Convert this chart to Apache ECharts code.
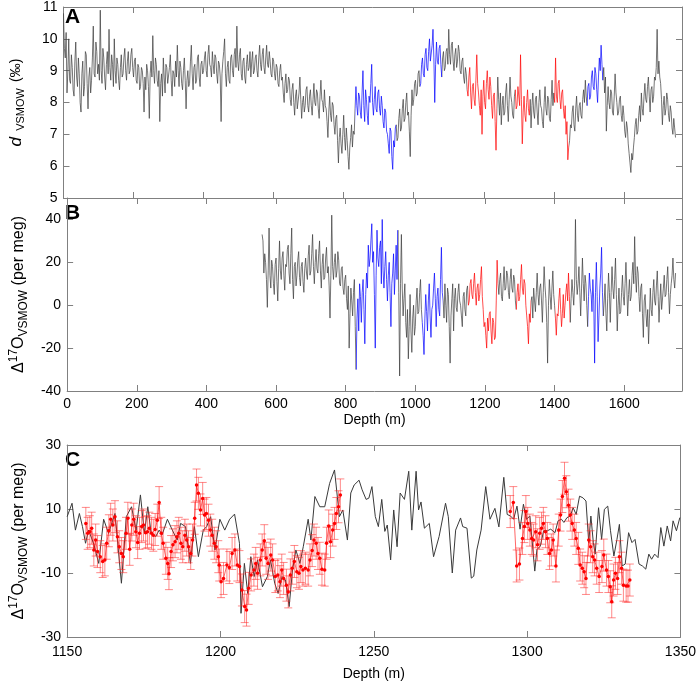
<!DOCTYPE html>
<html>
<head>
<meta charset="utf-8">
<script src="https://cdn.jsdelivr.net/npm/echarts@6.0.0/dist/echarts.min.js"></script>
<style>
  html, body { margin: 0; padding: 0; background: #fff; }
  #main { width: 699px; height: 684px; }
</style>
</head>
<body>
<div id="main"></div>
<script>
// panel A / B are sampled every 2.5 m
const aStart = 0
const bStart = 560
const step = 2.5

// A: deuterium excess (permil), 0 - 1747.5 m
const dExcess = [
  10.8, 9.7, 9.4, 10.2, 8.3, 9.0, 10.0, 8.7, 8.6, 9.5, 9.1, 8.4, 8.2, 9.3, 9.9, 8.8, 8.5, 9.4, 8.9, 8.0,
  7.7, 8.9, 9.3, 8.2, 8.5, 9.6, 9.5, 8.6, 7.8, 8.8, 9.1, 8.3, 8.7, 9.4, 10.4, 8.9, 8.8, 9.9, 9.6, 8.9,
  9.2, 8.7, 10.9, 9.0, 8.6, 9.7, 9.4, 8.8, 8.4, 9.2, 9.6, 8.9, 10.3, 9.1, 8.7, 9.5, 9.2, 8.5, 10.0, 9.0,
  8.6, 9.4, 9.2, 8.7, 8.4, 9.1, 9.5, 8.8, 8.9, 9.4, 9.7, 9.0, 8.7, 9.3, 9.6, 8.9, 9.0, 9.5, 9.7, 9.1,
  8.8, 9.3, 9.4, 8.7, 8.6, 9.2, 9.1, 8.4, 8.5, 9.1, 9.0, 8.6, 7.7, 8.8, 8.4, 9.2, 9.0, 8.5, 7.5, 8.9,
  9.3, 8.8, 10.1, 9.0, 8.6, 9.4, 9.2, 8.7, 8.5, 9.0, 7.4, 8.6, 8.9, 8.2, 9.4, 8.8, 8.3, 9.2, 9.1, 8.6,
  8.6, 9.1, 9.5, 8.7, 8.2, 9.0, 8.9, 8.5, 9.3, 8.8, 9.8, 9.0, 8.5, 9.3, 9.1, 8.6, 8.4, 9.0, 9.4, 8.7,
  7.8, 8.7, 9.0, 8.5, 8.6, 9.3, 9.8, 8.9, 8.4, 9.1, 9.2, 8.6, 8.7, 9.4, 9.5, 8.8, 8.5, 9.2, 9.3, 8.9,
  9.0, 9.4, 9.6, 9.0, 8.8, 9.5, 9.8, 9.2, 9.1, 8.8, 9.6, 9.2, 8.9, 9.5, 9.4, 8.9, 8.6, 9.3, 9.2, 8.8,
  7.4, 8.9, 9.3, 9.6, 10.0, 8.9, 8.5, 9.1, 9.3, 8.7, 8.6, 9.4, 9.5, 9.0, 8.8, 9.5, 9.7, 9.1, 10.4, 9.3,
  9.0, 9.5, 9.7, 8.9, 8.7, 9.3, 9.4, 8.8, 8.6, 9.2, 9.5, 9.0, 9.1, 9.6, 8.8, 9.3, 9.6, 8.9, 9.0, 9.4,
  9.5, 9.0, 8.8, 9.4, 9.8, 9.2, 9.0, 9.5, 9.7, 9.1, 8.9, 9.4, 9.8, 9.2, 9.1, 9.6, 9.3, 8.9, 8.8, 9.4,
  9.3, 8.9, 8.7, 9.2, 9.1, 8.6, 8.5, 9.0, 9.2, 8.7, 8.8, 8.3, 8.0, 8.6, 8.9, 8.3, 8.4, 8.8, 8.7, 8.1,
  7.9, 8.4, 8.6, 8.0, 7.6, 8.2, 8.4, 7.8, 7.8, 8.3, 8.8, 8.1, 7.5, 8.0, 8.2, 7.7, 7.9, 8.4, 8.5, 7.9,
  7.7, 8.2, 8.4, 7.9, 7.6, 8.1, 8.6, 8.0, 7.9, 8.4, 8.3, 7.8, 7.5, 8.2, 8.7, 8.1, 8.0, 7.7, 8.4, 7.9,
  7.8, 7.4, 6.9, 7.7, 8.2, 7.6, 7.4, 8.0, 7.9, 7.3, 7.0, 7.5, 7.6, 6.8, 6.1, 6.9, 7.2, 6.7, 6.4, 7.0,
  7.6, 6.9, 6.5, 7.2, 6.8, 6.3, 5.9, 6.6, 6.9, 7.3, 6.6, 7.1, 7.0, 7.8, 8.5, 7.9, 7.6, 8.3, 8.2, 7.7,
  7.5, 8.3, 9.0, 7.9, 7.4, 8.4, 8.1, 7.6, 7.3, 8.2, 8.0, 8.6, 9.2, 8.0, 7.6, 8.1, 8.5, 7.8, 7.7, 8.3,
  8.4, 7.8, 7.6, 8.2, 7.9, 7.4, 7.2, 7.8, 7.7, 7.1, 7.0, 6.7, 6.4, 7.2, 7.1, 6.3, 5.9, 6.8, 6.6, 7.2,
  7.3, 6.8, 6.9, 7.5, 7.8, 7.1, 7.2, 7.8, 8.1, 7.4, 7.5, 8.0, 8.3, 7.6, 7.7, 7.1, 6.3, 7.6, 8.4, 7.9,
  8.1, 8.6, 8.7, 8.2, 8.3, 8.9, 9.0, 8.5, 8.6, 9.2, 9.4, 8.9, 8.8, 9.5, 9.7, 9.1, 9.0, 9.6, 10.0, 9.3,
  9.3, 9.8, 10.3, 9.4, 8.0, 9.2, 9.9, 9.3, 9.2, 9.7, 9.8, 9.2, 8.8, 9.4, 9.6, 9.0, 9.1, 9.6, 9.7, 9.2,
  10.3, 9.5, 9.2, 9.8, 9.9, 9.3, 9.0, 9.5, 9.7, 9.1, 9.3, 9.8, 9.6, 9.0, 8.9, 9.3, 9.4, 8.8, 8.6, 9.1,
  8.9, 8.4, 8.2, 8.8, 9.1, 8.3, 7.8, 8.5, 8.6, 8.1, 7.9, 8.7, 9.5, 8.6, 8.3, 7.9, 7.6, 8.4, 7.0, 8.2,
  8.7, 8.0, 7.8, 8.6, 9.0, 8.4, 8.1, 8.8, 8.5, 7.9, 7.5, 8.2, 8.3, 7.4, 6.5, 7.8, 8.8, 8.1, 7.6, 8.3,
  7.3, 7.9, 8.2, 7.6, 7.7, 8.3, 8.6, 7.9, 7.4, 8.1, 8.8, 8.2, 8.0, 7.6, 7.5, 8.2, 8.4, 7.8, 7.9, 8.5,
  8.5, 7.9, 9.5, 8.1, 6.7, 7.7, 8.2, 7.6, 7.4, 8.0, 8.4, 7.8, 7.6, 8.1, 7.2, 7.9, 8.3, 7.7, 7.5, 8.1,
  8.2, 7.7, 7.3, 8.0, 8.4, 7.9, 7.8, 7.4, 7.2, 8.0, 8.5, 7.8, 7.6, 8.2, 8.1, 7.5, 7.4, 8.1, 8.7, 7.9,
  8.3, 8.0, 9.4, 8.2, 8.0, 8.6, 8.7, 8.1, 7.8, 8.3, 8.4, 7.8, 7.5, 7.9, 7.0, 7.4, 6.2, 6.6, 6.8, 7.3,
  7.2, 7.7, 7.9, 7.3, 7.1, 7.8, 8.2, 7.6, 7.4, 7.9, 8.0, 7.6, 7.5, 8.1, 8.4, 8.0, 8.7, 8.2, 7.9, 8.5,
  8.6, 8.1, 8.2, 8.8, 9.0, 8.5, 8.4, 9.1, 8.9, 8.4, 8.0, 8.8, 9.4, 9.0, 9.8, 9.2, 8.7, 9.1, 8.3, 8.8,
  7.1, 7.9, 8.5, 8.0, 7.8, 8.4, 8.3, 7.7, 7.6, 8.2, 8.9, 8.3, 8.0, 7.6, 7.7, 8.1, 8.2, 7.6, 7.4, 7.9,
  7.6, 7.1, 6.9, 7.4, 7.2, 6.7, 6.4, 6.1, 5.8, 6.4, 6.2, 6.6, 6.9, 7.3, 7.5, 7.0, 7.1, 7.6, 7.9, 7.4,
  8.3, 7.8, 7.6, 8.2, 8.6, 8.1, 8.0, 8.5, 8.8, 8.2, 7.7, 8.4, 8.5, 8.0, 8.2, 8.8, 8.7, 9.1, 10.3, 8.9,
  9.3, 8.8, 8.6, 8.1, 7.3, 7.9, 8.2, 7.6, 7.8, 8.3, 8.1, 7.6, 7.4, 7.9, 7.7, 7.2, 7.0, 7.5, 7.2, 6.9
]

// B: 17O excess (per meg), 560 - 1747.5 m
const d17O = [
  33, 30, 15, 24, 20, 12, -1, 16, 36, 14, 8, 21, 18, 10, 5, 19, 22, 11, 2, 17,
  30, 16, 12, 22, 25, 14, 7, 19, 18, 26, 28, 15, 10, 24, 36, 12, 3, 18, 20, 9,
  14, 21, 25, 13, 9, 18, 20, 11, 6, 17, 22, 15, 12, 23, 28, 14, 16, 24, 33, 18,
  10, 20, 26, 17, 15, 24, 30, 16, 8, 19, 24, 12, 13, 22, 27, 15, 18, 9, -6, 14,
  42, 18, 12, 20, 24, 13, 16, 25, 21, 10, 9, 17, 18, 8, 5, 12, 14, 3, -2, 9,
  -20, -4, 8, 2, -5, 6, 12, -10, -30, -6, 3, -12, 10, 4, -8, 6, 12, -2, -18, 5,
  15, 8, 28, 18, 22, 30, 38, 20, 25, 5, -20, 14, 35, 22, 18, 27, 30, 10, 40, 16,
  8, 18, 25, 12, 2, 14, 20, 6, -10, 10, 15, 24, 5, 16, 28, 12, 35, 6, -33, 10,
  33, 8, -5, 3, 10, -8, -15, -2, -25, -10, 5, -12, -22, -6, 0, -14, -10, 2, 8, -4,
  -3, 6, 12, -2, -8, -14, -23, -6, 5, -3, -12, 2, 10, -5, -15, -2, 0, 8, 15, 3,
  -10, 4, 8, -2, -5, 12, 27, 6, 2, -6, 10, 0, -8, 8, 5, -10, -27, -5, 3, 10,
  -12, 3, 8, -1, -3, 6, 10, 2, 0, -5, -10, 4, 6, -2, -5, 7, 9, 0, 2, 10,
  12, 5, 3, 10, 15, 6, 0, 8, 10, 2, 5, 12, 18, 4, -2, -10, -8, -14, -20, -6,
  -12, -4, -3, -12, -18, -6, -8, -16, -15, 2, 21, 10, 5, 12, 15, 4, 2, 10, 18, 7,
  8, 16, 14, 6, 3, 12, 17, 8, 6, 14, 12, 2, -2, 6, 10, 2, 4, 12, 19, 8,
  5, 12, 10, 0, -5, -10, -18, -4, -8, 2, 4, -6, 8, 2, -3, 6, 15, 5, 0, 8,
  10, 2, -8, 6, 18, 9, 3, -8, -27, 0, 12, 4, -2, 8, 16, 5, 0, -6, -14, -4,
  -5, 3, 8, -2, -10, -4, 5, -6, 0, 6, 10, 2, 15, 4, -8, 3, 12, 6, 0, 9,
  40, 12, 5, 10, 18, 6, -5, 8, 22, 10, 2, 14, 10, 0, -10, 4, 15, 8, 5, -3,
  12, 2, -27, 6, 20, 4, -17, -5, 8, 15, 27, 6, -5, 2, 10, -4, -12, 3, 15, 6,
  -8, 6, 18, 8, 3, 12, 22, 5, -12, 0, 8, -4, -3, 6, 14, 4, 0, 10, 20, 8,
  -5, 5, 12, 2, 4, 14, 20, 10, 32, 14, 6, 18, 15, 4, -3, 8, 10, -4, -15, 2,
  5, -4, -10, -2, -18, -6, 8, -2, -5, 6, 12, 2, 0, 9, 16, 4, -8, 2, 10, -2,
  -2, 8, 14, 4, 5, 12, 18, 6, -4, 5, 10, 14, 22, 12, 8, 15
]

// depth intervals highlighted in A and B
const blueRanges = [[831, 950], [1018, 1080], [1496, 1540]]
const redRanges = [[1152, 1238], [1288, 1332], [1400, 1444]]

// C: detail 1150 - 1350 m
const cLineDepth = [
  1150, 1151.6, 1152.7, 1154, 1155, 1156, 1157, 1158.7, 1160.3, 1161.9,
  1163.5, 1165.6, 1167.7, 1169.3, 1171, 1172.5, 1173.9, 1175.2, 1176.3, 1177.4,
  1178.9, 1180, 1181, 1182.7, 1184.3, 1185.9, 1187, 1188.6, 1190.2, 1191.5,
  1192.8, 1194.4, 1195.5, 1196.8, 1198.2, 1199.8, 1201.4, 1203, 1204.6, 1206.2,
  1206.7, 1207.8, 1208.9, 1209.9, 1211, 1212.1, 1213.7, 1215.3, 1216.3, 1217.7,
  1218.8, 1220.1, 1221.2, 1222.4, 1223.5, 1224.6, 1225.9, 1227, 1228.6, 1229.5,
  1230.8, 1232.4, 1234, 1235.6, 1237.2, 1238.8, 1239.9, 1241.4, 1242.5, 1243.6,
  1245.2, 1246.2, 1247.5, 1248.4, 1249.4, 1250.5, 1251.5, 1252.6, 1253.6, 1254.4,
  1255.5, 1256.5, 1257.6, 1258.6, 1260, 1261.4, 1262.4, 1263.8, 1264.6, 1265.4,
  1266.5, 1268.1, 1269.5, 1271.3, 1273.4, 1274.3, 1275.6, 1276.7, 1278.3, 1279,
  1280.4, 1281.8, 1282.6, 1283.6, 1285, 1286.5, 1287.9, 1289.5, 1290.8, 1292.4,
  1293.5, 1294.6, 1295.6, 1296.7, 1297.7, 1298.8, 1299.8, 1300.9, 1301.6, 1302.5,
  1303.2, 1304.3, 1305.4, 1306.6, 1307.7, 1309.1, 1310.1, 1311.2, 1312, 1313,
  1314.1, 1315, 1316, 1317.1, 1318.2, 1319.2, 1320.1, 1320.8, 1321.6, 1322.2,
  1323.3, 1324.3, 1325.2, 1326.3, 1327.2, 1328.3, 1329.3, 1330.1, 1331, 1332,
  1333.1, 1334.2, 1335.2, 1336.5, 1337.6, 1338.7, 1339.7, 1340.6, 1341.6, 1342.7,
  1343.6, 1344.6, 1345.7, 1346.8, 1347.6, 1348.7, 1349.8
]
const cLineValue = [
  7.6, 11.8, 3.4, 8.6, 4.5, -0.7, 3.4, -1, -7, 6.8,
  2.4, 8.6, -13.2, 7.6, 10.7, 3.4, 14.4, 2.4, 10.7, 2.4,
  1.4, 3.4, 2, 6.8, 3.4, 0.3, 5.5, 4.5, -7, 4.5,
  -4.9, 3.4, 4.5, 7.6, -2.8, 6.8, 3.4, 6.8, 8.4, -0.7,
  -22.6, -7, -16.4, -4.9, -11.1, -5.9, -14.3, -11.1, -5.9, -13.2,
  -16.4, -11.1, -12.2, -20.5, -9, -2.8, -7, -1.8, 6.8, 0.3,
  13.9, 10.7, 10.7, 18, 22.2, 7.6, 9.7, 0.3, 15, 17.5,
  19, 16, 13, 13.4, 17, 7.6, 4.5, 13, 3, 5,
  -5.9, 9.7, -1.8, 15, 13, 21.8, 3.4, 21.8, 9.7, 12.2,
  4, 5.5, -4.9, 1.4, 11.8, 7.6, -10, 3.4, 7.2, 4.5,
  4, -11.6, -11, -2.8, 3.4, 17, 6.8, 10.2, 4.4, 19.9,
  8.3, 7.8, 6.8, 10.9, 3.7, 11.5, 6.8, 7.8, 0.5, -9.4,
  -2.7, -1.6, 3.2, 3.2, 3.7, 2.6, 6.3, 6.8, 5.8, 7.3,
  7.8, 10.4, 8.3, 14, 13.5, 12.5, -0.5, 7.8, -0.5, -4.1,
  10.4, 0.5, 9.9, 10.9, 3.2, -4.7, 0.5, 5.2, -7.8, -7.2,
  2.6, -0.5, 0.5, -7.2, -7.8, -8.8, -4.1, -5.7, -4.1, -5.2,
  4.2, -1.6, 4.7, 0, 6.3, 3.2, 7.3
]

const cRed1Depth = [
  1156.1, 1156.7, 1157.4, 1158.0, 1158.7, 1159.3, 1159.9, 1160.8, 1161.6, 1162.3,
  1162.9, 1163.6, 1164.2, 1164.9, 1165.6, 1166.4, 1167.0, 1167.7, 1168.3, 1169.2,
  1169.8, 1170.4, 1171.1, 1171.7, 1172.4, 1173.0, 1173.6, 1174.3, 1174.9, 1175.6,
  1176.2, 1176.8, 1177.5, 1178.1, 1178.7, 1179.4, 1180.0, 1180.7, 1181.3, 1182.2,
  1182.8, 1183.2, 1183.9, 1184.5, 1185.2, 1185.8, 1186.4, 1187.1, 1187.7, 1188.4,
  1189.0, 1189.6, 1190.3, 1190.9, 1191.6, 1192.2, 1192.8, 1193.5, 1194.2, 1194.8,
  1195.4, 1196.1, 1196.7, 1197.3, 1198.0, 1198.6, 1199.3, 1199.6, 1200.2, 1201.0,
  1202.1, 1202.9, 1203.8, 1204.7, 1205.5, 1206.2, 1207.0, 1207.9, 1208.5, 1209.2,
  1210.0, 1210.9, 1211.5, 1212.1, 1213.0, 1213.6, 1214.3, 1214.9, 1215.5, 1216.4,
  1217.0, 1217.9, 1218.7, 1219.4, 1220.0, 1220.6, 1221.5, 1222.1, 1222.8, 1223.4,
  1224.1, 1224.9, 1225.6, 1226.2, 1226.9, 1227.7, 1228.6, 1229.2, 1229.9, 1230.5,
  1231.2, 1231.8, 1232.4, 1233.1, 1234.0, 1234.6, 1235.3, 1235.9, 1236.6, 1237.2,
  1237.8, 1238.5, 1239.1
]
const cRed1Value = [
  5.5, 2.4, 2.9, 4.0, -2.8, 0.3, -3.3, -4.9, -6.4, -5.9,
  -0.7, 3.2, 6.8, 5.0, 7.6, 1.3, -1.8, -3.9, -4.9, 2.4,
  7.1, -2.6, 5.0, 6.8, 2.9, -0.5, 2.4, 4.5, 5.0, 2.6,
  2.9, 4.0, 2.4, 1.8, 3.6, 6.5, 12.0, 2.4, -0.7, -5.4,
  -7.0, -10.2, -3.3, -1.2, -0.2, 1.3, 2.4, -0.7, -1.8, 1.8,
  0.3, -1.8, -3.9, 0.3, 7.1, 17.5, 14.9, 9.7, 13.3, 8.1,
  8.6, 6.5, 3.4, 1.8, -0.7, -1.8, -4.9, -7.5, -12.7, -11.7,
  -7.5, -8.3, -3.9, -2.8, -7.5, -8.0, -15.3, -20.5, -21.6, -14.8,
  -10.6, -9.1, -7.0, -10.1, -5.9, -2.8, 0.1, -5.4, -7.0, -4.4,
  -5.9, -11.1, -10.6, -12.7, -9.1, -11.7, -13.8, -15.9, -10.6, -8.5,
  -6.4, -9.6, -10.1, -8.0, -9.1, -8.5, -9.1, -5.9, -3.0, 0.3,
  -0.7, -3.9, -5.4, -8.8, -9.1, -0.7, 4.7, -0.2, 3.4, 5.5,
  8.6, 10.7, 14.4
]

const cRed2Depth = [
  1294.5, 1295.5, 1296.6, 1297.5, 1298.5, 1299.1, 1299.6, 1300.2, 1300.9, 1301.5,
  1302.1, 1302.8, 1303.4, 1304.1, 1304.7, 1305.3, 1306.0, 1306.6, 1307.3, 1307.9,
  1308.5, 1309.4, 1310.3, 1310.9, 1311.5, 1312.2, 1312.8, 1313.5, 1314.1, 1314.7,
  1315.4, 1316.0, 1316.7, 1317.3, 1318.0, 1318.6, 1319.2, 1320.1, 1320.7, 1321.4,
  1322.0, 1322.7, 1323.5, 1324.4, 1325.0, 1325.9, 1326.5, 1327.1, 1327.6, 1328.2,
  1328.8, 1329.5, 1330.1, 1330.8, 1331.4, 1332.3, 1332.9, 1333.5
]
const cRed2Value = [
  9.2, 12.0, -7.8, -7.2, 0.8, 4.5, 9.2, 5.5, 3.4, 0.8,
  0.3, 2.9, -1.2, 2.4, 4.0, 5.5, 2.9, 0.8, -3.9, -2.8,
  0.3, -7.8, 3.4, 8.1, 13.9, 19.6, 15.4, 11.2, 8.1, 5.5,
  3.4, 0.8, -2.3, -7.5, -8.5, -9.6, -11.7, 0.3, -1.8, -4.9,
  -5.9, -8.5, -11.1, -8.0, -4.4, -9.1, -11.1, -14.3, -19.0, -12.2,
  -10.1, -11.7, -4.9, -8.5, -13.8, -14.1, -14.1, -12.2
]
const cErr = 5

const font = 'Helvetica, Arial, "Liberation Sans", sans-serif'
const frame = '#808080'
const dark = '#3a3a3a'
const blue = '#0000ff'
const red = '#ff0000'

function regular (start, values) {
  return values.map((v, i) => [start + i * step, v])
}
function zip (xs, ys) {
  return xs.map((x, i) => [x, ys[i]])
}

const aData = regular(aStart, dExcess)
const bData = regular(bStart, d17O)
const cLine = zip(cLineDepth, cLineValue)
const cRed1 = zip(cRed1Depth, cRed1Value)
const cRed2 = zip(cRed2Depth, cRed2Value)

const pieces = blueRanges.map(r => ({ gte: r[0], lte: r[1], color: blue }))
  .concat(redRanges.map(r => ({ gte: r[0], lte: r[1], color: red })))

function axis (gridIndex, position, min, max, interval, showLabel) {
  return {
    type: 'value',
    gridIndex: gridIndex,
    position: position,
    min: min,
    max: max,
    interval: interval,
    axisLine: { show: true, onZero: false, lineStyle: { color: frame, width: 1 } },
    axisTick: { show: true, inside: true, length: 6, lineStyle: { color: frame } },
    axisLabel: {
      show: showLabel,
      color: '#000',
      fontSize: 14,
      fontFamily: font,
      margin: 6,
      formatter: v => String(v)
    },
    splitLine: { show: false }
  }
}

const d17Name = '{n|Δ}{sup|17}{n|O}{sub|VSMOW}{n| (per meg)}'
const d17Rich = {
  n: { fontSize: 16, fontFamily: font, color: '#000', lineHeight: 22, verticalAlign: 'middle' },
  sup: { fontSize: 12, fontFamily: font, color: '#000', lineHeight: 11, verticalAlign: 'top' },
  sub: { fontSize: 12, fontFamily: font, color: '#000', lineHeight: 11, verticalAlign: 'bottom' }
}

const xA = axis(0, 'bottom', 0, 1766, 200, false)
const xAtop = axis(0, 'top', 0, 1766, 200, false)
const xB = axis(1, 'bottom', 0, 1766, 200, true)
xB.axisLabel.showMaxLabel = false
xB.name = 'Depth (m)'
xB.nameLocation = 'middle'
xB.nameGap = 22
xB.nameTextStyle = { color: '#000', fontSize: 14, fontFamily: font }
const xBtop = axis(1, 'top', 0, 1766, 200, false)
const xC = axis(2, 'bottom', 1150, 1350, 50, true)
xC.axisLabel.margin = 8
xC.name = 'Depth (m)'
xC.nameLocation = 'middle'
xC.nameGap = 30
xC.nameTextStyle = { color: '#000', fontSize: 14, fontFamily: font }
const xCtop = axis(2, 'top', 1150, 1350, 50, false)

const yA = axis(0, 'left', 5, 11, 1, true)
yA.name = '{i|d}{s|  VSMOW  }{n|(‰)}'
yA.nameLocation = 'middle'
yA.nameRotate = 90
yA.nameGap = 37
yA.nameTextStyle = {
  rich: {
    i: { fontSize: 17, fontStyle: 'italic', fontFamily: font, color: '#000', lineHeight: 20, verticalAlign: 'middle' },
    s: { fontSize: 11, fontFamily: font, color: '#000', lineHeight: 16, verticalAlign: 'bottom' },
    n: { fontSize: 14, fontFamily: font, color: '#000', lineHeight: 20, verticalAlign: 'middle' }
  }
}
const yAright = axis(0, 'right', 5, 11, 1, false)

const b17Ticks = [-40, -20, 0, 20, 40]
const yB = axis(1, 'left', -40, 50, 10, true)
yB.axisLabel.customValues = b17Ticks
yB.axisTick.customValues = b17Ticks
yB.name = d17Name
yB.nameLocation = 'middle'
yB.nameRotate = 90
yB.nameGap = 33
yB.nameTextStyle = { rich: d17Rich }
const yBright = axis(1, 'right', -40, 50, 10, false)
yBright.axisTick.customValues = b17Ticks

const yC = axis(2, 'left', -30, 30, 20, true)
yC.name = d17Name
yC.nameLocation = 'middle'
yC.nameRotate = 90
yC.nameGap = 33
yC.nameTextStyle = { rich: d17Rich }
const yCright = axis(2, 'right', -30, 30, 20, false)

function errorBar (params, api) {
  const x = api.value(0)
  const y = api.value(1)
  const top = api.coord([x, y + cErr])
  const bot = api.coord([x, y - cErr])
  const w = 4
  const style = { stroke: 'rgba(255, 40, 40, 0.55)', lineWidth: 1 }
  return {
    type: 'group',
    children: [
      { type: 'line', shape: { x1: top[0], y1: top[1], x2: bot[0], y2: bot[1] }, style: style },
      { type: 'line', shape: { x1: top[0] - w, y1: top[1], x2: top[0] + w, y2: top[1] }, style: style },
      { type: 'line', shape: { x1: bot[0] - w, y1: bot[1], x2: bot[0] + w, y2: bot[1] }, style: style }
    ]
  }
}

function redLine (data) {
  return {
    type: 'line',
    xAxisIndex: 4,
    yAxisIndex: 4,
    data: data,
    symbol: 'circle',
    symbolSize: 3.5,
    itemStyle: { color: red },
    lineStyle: { color: 'rgba(255, 0, 0, 0.6)', width: 1 },
    z: 4
  }
}

function label (text, left, top) {
  return {
    type: 'text',
    left: left,
    top: top,
    style: { text: text, fontSize: 21, fontWeight: 'bold', fontFamily: font, fill: '#000' }
  }
}

let option = {
  backgroundColor: '#fff',
  animation: false,
  grid: [
    { left: 58, top: 6, width: 624, height: 192 },
    { left: 58, top: 198, width: 624, height: 193 },
    { left: 58, top: 445, width: 624, height: 192 }
  ],
  xAxis: [xA, xAtop, xB, xBtop, xC, xCtop],
  yAxis: [yA, yAright, yB, yBright, yC, yCright],
  visualMap: [
    { show: false, type: 'piecewise', seriesIndex: 0, dimension: 0, pieces: pieces, outOfRange: { color: dark } },
    { show: false, type: 'piecewise', seriesIndex: 1, dimension: 0, pieces: pieces, outOfRange: { color: dark } }
  ],
  graphic: [label('A', 65, 7), label('B', 65, 203), label('C', 65, 450)],
  series: [
    {
      type: 'line',
      xAxisIndex: 0,
      yAxisIndex: 0,
      data: aData,
      showSymbol: false,
      lineStyle: { width: 0.7 }
    },
    {
      type: 'line',
      xAxisIndex: 2,
      yAxisIndex: 2,
      data: bData,
      showSymbol: false,
      lineStyle: { width: 0.7 }
    },
    {
      type: 'line',
      xAxisIndex: 4,
      yAxisIndex: 4,
      data: cLine,
      showSymbol: false,
      lineStyle: { color: dark, width: 1 },
      z: 2
    },
    {
      type: 'custom',
      xAxisIndex: 4,
      yAxisIndex: 4,
      renderItem: errorBar,
      data: cRed1.concat(cRed2),
      z: 3
    },
    redLine(cRed1),
    redLine(cRed2)
  ]
}

let myChart = echarts.init(document.getElementById('main'))
myChart.setOption(option)
</script>
</body>
</html>
